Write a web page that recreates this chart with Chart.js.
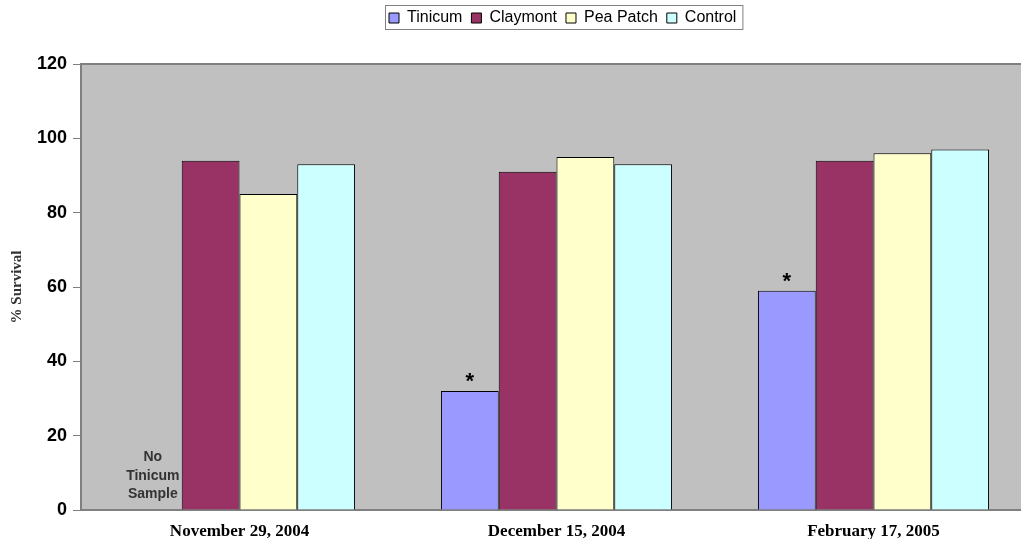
<!DOCTYPE html>
<html>
<head>
<meta charset="utf-8">
<script src="https://cdn.jsdelivr.net/npm/chart.js@4"></script>
<style>
html,body{margin:0;padding:0;background:#fff;overflow:hidden;}
#wrap{width:1032px;height:539px;position:relative;}
</style>
</head>
<body>
<div id="wrap"><canvas id="c"></canvas></div>
<script>
const categories = ['November 29, 2004', 'December 15, 2004', 'February 17, 2005'];
const seriesNames = ['Tinicum', 'Claymont', 'Pea Patch', 'Control'];
const tinicum = [null, 32, 59];
const claymont = [94, 91, 94];
const peaPatch = [85, 95, 96];
const control = [93, 93, 97];
const significant = [false, true, true]; // asterisks on Tinicum bars
const noSampleNote = ['No', 'Tinicum', 'Sample'];
const yTicks = [0, 20, 40, 60, 80, 100, 120];
const colors = ['#9999FF', '#993366', '#FFFFCC', '#CCFFFF'];

const seriesValues = [tinicum, claymont, peaPatch, control];

const plotPlugin = {
  id: 'plotDecor',
  beforeLayout(chart) {
    const lg = chart.legend;
    if (lg && !lg._wrapped) {
      const orig = lg.fit.bind(lg);
      lg.fit = function () { orig(); this.height = 64; };
      lg._wrapped = true;
    }
  },
  afterLayout(chart) {
    const lg = chart.legend;
    if (!lg || !lg.lineWidths) return;
    const pad = lg.options.labels.padding;
    const lw = lg.lineWidths[0];
    const x0 = (lg.left + pad + lg.right - lw) / 2;
    const shift = 389 - x0;
    lg.left += shift;
    lg.right += shift;
    lg.top += 1;
  },
  beforeDraw(chart) {
    const {ctx, chartArea: a} = chart;
    ctx.save();
    ctx.fillStyle = '#C0C0C0';
    ctx.fillRect(a.left, a.top, a.right - a.left, a.bottom - a.top);
    ctx.strokeStyle = '#808080';
    ctx.lineWidth = 2;
    ctx.beginPath();
    ctx.moveTo(a.left, a.top);
    ctx.lineTo(a.right, a.top);
    ctx.stroke();
    ctx.restore();
  },
  afterDraw(chart) {
    const {ctx} = chart;
    const lg = chart.legend;
    // legend frame
    if (lg && lg.lineWidths) {
      const pad = lg.options.labels.padding;
      const lw = lg.lineWidths[0];
      const x0 = (lg.left + pad + lg.right - lw) / 2;
      const x1 = x0 + lw - pad;
      ctx.save();
      ctx.strokeStyle = '#808080';
      ctx.lineWidth = 1;
      ctx.strokeRect(x0 - 3.5, 5.5, (x1 + 7) - (x0 - 3), 24);
      ctx.restore();
    }
    // asterisks & note
    const m0 = chart.getDatasetMeta(0);
    const m1 = chart.getDatasetMeta(1);
    ctx.save();
    ctx.fillStyle = '#000';
    ctx.textAlign = 'center';
    ctx.textBaseline = 'alphabetic';
    ctx.font = 'bold 22px "Liberation Sans", Arial, sans-serif';
    significant.forEach((s, i) => {
      if (s && tinicum[i] != null) {
        const bar = m0.data[i];
        ctx.fillText('*', bar.x, bar.y - 3);
      }
    });
    ctx.font = 'bold 14px "Liberation Sans", Arial, sans-serif';
    ctx.fillStyle = '#333';
    tinicum.forEach((v, i) => {
      if (v == null) {
        const ref = m1.data[i];
        const cx = ref.x - ref.width;
        const base = chart.scales.y.getPixelForValue(0);
        noSampleNote.forEach((t, k) => {
          ctx.fillText(t, cx, base - 12 - (noSampleNote.length - 1 - k) * 18.5);
        });
      }
    });
    ctx.restore();
  }
};

new Chart(document.getElementById('c'), {
  type: 'bar',
  data: {
    labels: categories,
    datasets: seriesNames.map((n, i) => ({
      label: n,
      data: seriesValues[i],
      backgroundColor: colors[i],
      borderColor: '#000',
      borderWidth: 1,
      barPercentage: 1,
      categoryPercentage: 0.729
    }))
  },
  options: {
    responsive: true,
    maintainAspectRatio: false,
    animation: false,
    layout: {padding: 0},
    plugins: {
      legend: {
        position: 'top',
        labels: {
          boxWidth: 10,
          boxHeight: 10,
          padding: 9,
          color: '#000',
          font: {family: '"Liberation Sans", Arial, sans-serif', size: 16}
        }
      },
      tooltip: {enabled: false}
    },
    scales: {
      x: {
        grid: {display: false, drawTicks: false},
        border: {display: true, color: '#808080', width: 2},
        ticks: {
          color: '#000',
          padding: 11,
          font: {family: '"Liberation Serif", "Times New Roman", serif', size: 17, weight: 'bold'}
        },
        afterFit(s) { s.height = 29; }
      },
      y: {
        min: 0,
        max: 120,
        afterBuildTicks(s) { s.ticks = yTicks.map(v => ({value: v})); },
        grid: {drawOnChartArea: false, drawTicks: true, tickLength: 8, color: '#808080', lineWidth: 1},
        border: {display: true, color: '#808080', width: 2},
        ticks: {
          color: '#000',
          padding: 6,
          font: {family: '"Liberation Sans", Arial, sans-serif', size: 18, weight: 'bold'}
        },
        title: {
          display: true,
          text: '% Survival',
          color: '#333',
          padding: {top: 8, bottom: 0},
          font: {family: '"Liberation Serif", "Times New Roman", serif', size: 15, weight: 'bold'}
        },
        afterFit(s) { s.width = 81; }
      }
    }
  },
  plugins: [plotPlugin]
});
</script>
</body>
</html>
